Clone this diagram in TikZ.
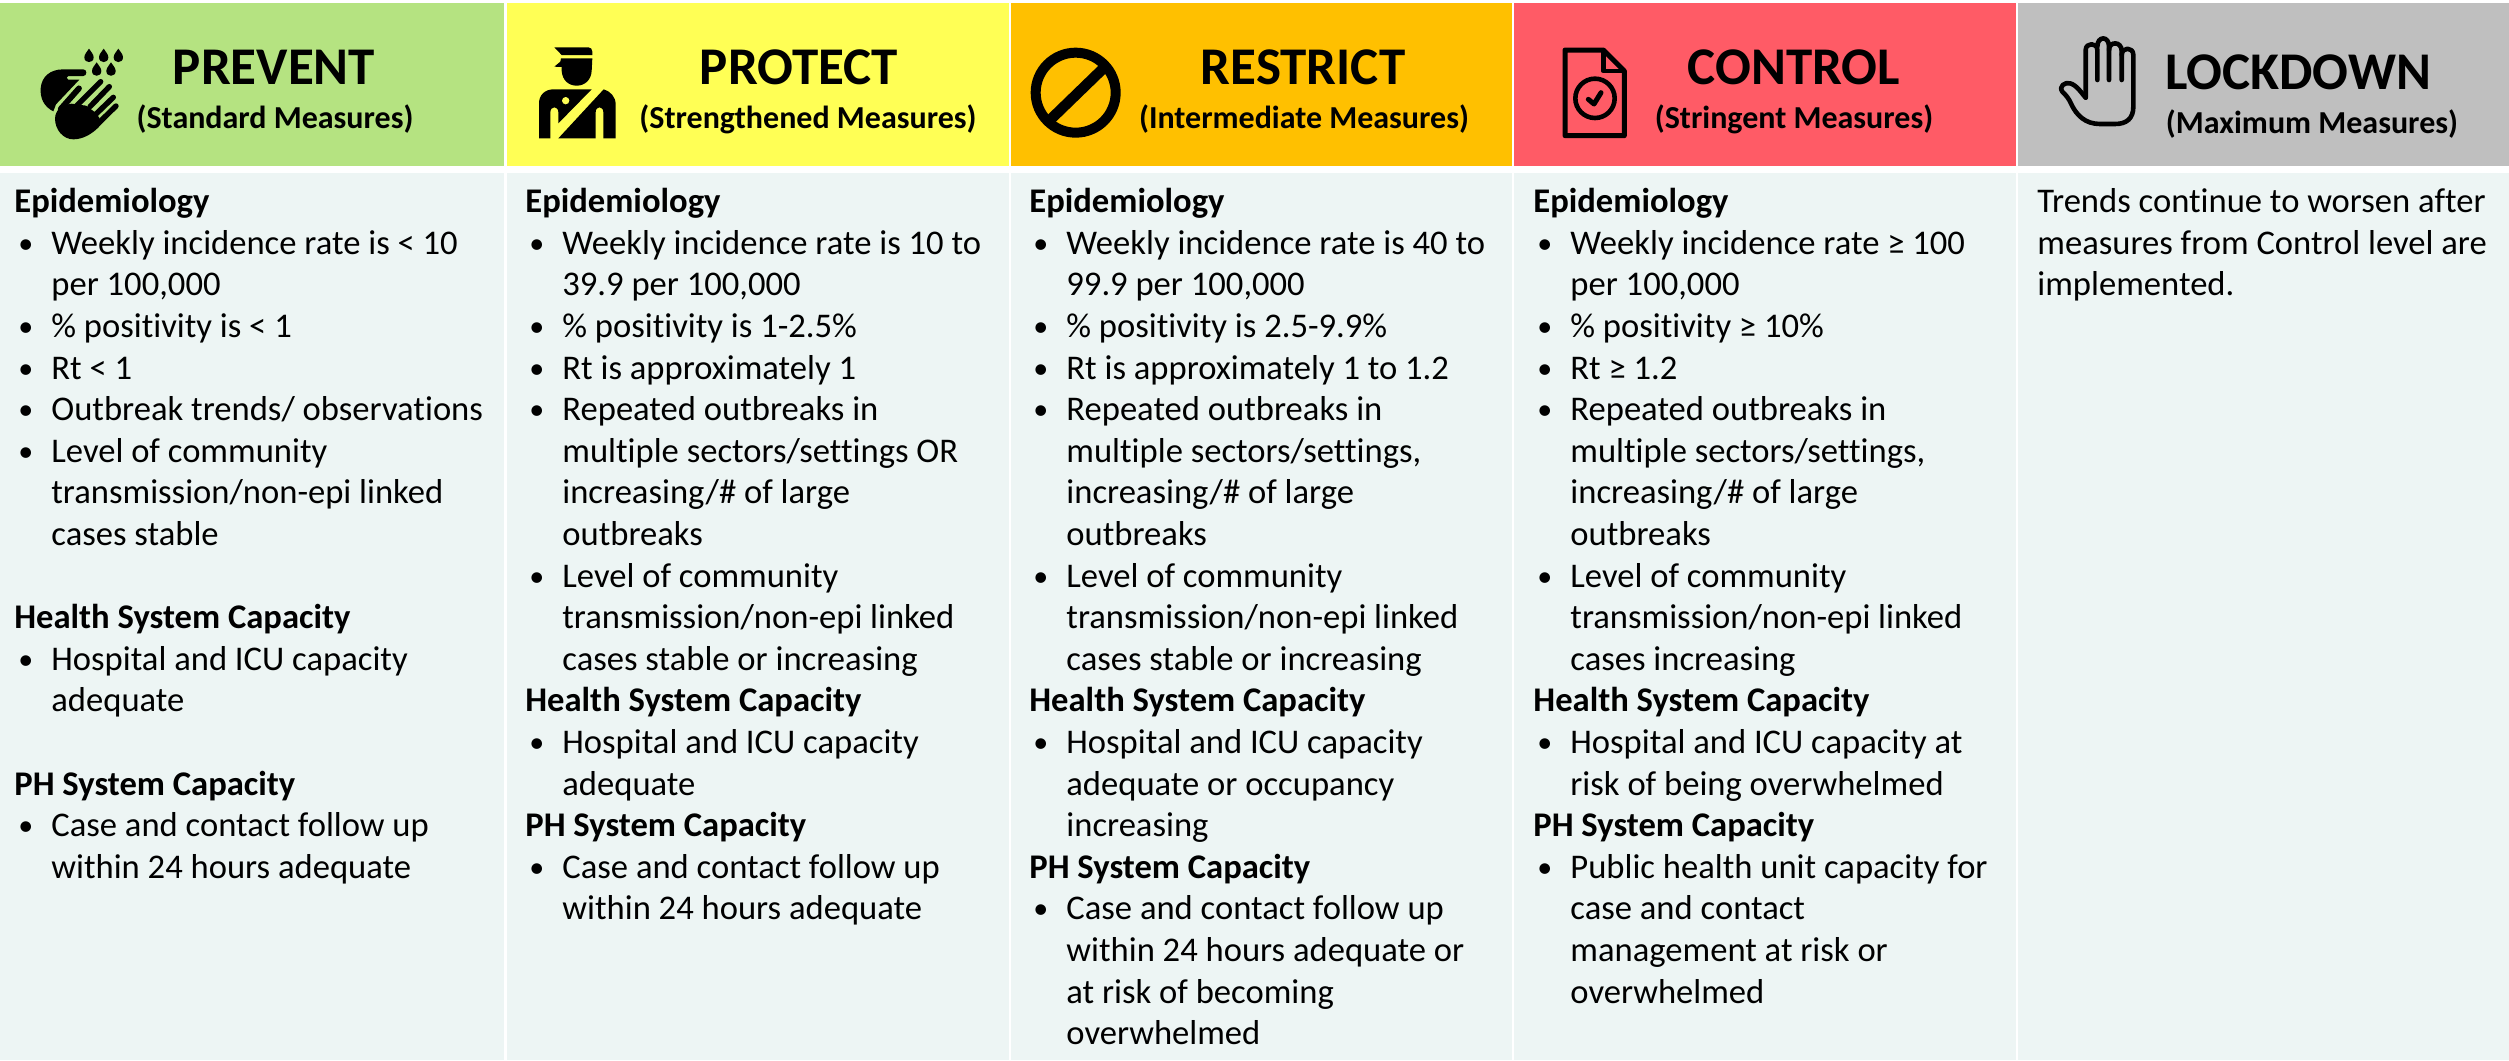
\documentclass[tikz,border=0pt]{standalone}
\usepackage{fontspec}
\usepackage{tikz}
\setmainfont[Ligatures = NoCommon]{Carlito}
\definecolor{prevcol}{HTML}{B5E381}
\definecolor{protcol}{HTML}{FFFF55}
\definecolor{restcol}{HTML}{FFC000}
\definecolor{contcol}{HTML}{FF5B66}
\definecolor{lockcol}{HTML}{BFBFBF}
\definecolor{bodycol}{HTML}{EDF5F4}
\newcommand{\bul}[1]{\hspace*{2pt}\makebox[16.5pt][l]{\fontsize{15}{15}\selectfont\raisebox{0.5pt}{•}}#1}
\newcommand{\cont}[1]{\hspace*{18.5pt}#1}
\tikzset{
  title/.style = {font = \fontsize{26.5}{30}\selectfont\bfseries, inner sep = 0},
  subtitle/.style = {font = \fontsize{16}{18}\selectfont\bfseries, inner sep = 0},
  bodytext/.style = {anchor = north west, align = left, inner sep = 0, font = \fontsize{17.3}{20.8}\selectfont},
  icon/.style = {x = 0.16667pt, y = -0.16667pt}
}

\begin{document}
\begin{tikzpicture}[x = 0.5pt, y = -0.5pt]
  \useasboundingbox (0, 0) rectangle (2509, 1060);
  % header bands
  \fill [prevcol] (0, 3) rectangle (504, 166);
  \fill [protcol] (507, 3) rectangle (1009, 166);
  \fill [restcol] (1011, 3) rectangle (1512, 166);
  \fill [contcol] (1514, 3) rectangle (2016, 166);
  \fill [lockcol] (2018, 3) rectangle (2509, 166);
  % body bands
  \fill [bodycol] (0, 173) rectangle (504, 1060);
  \fill [bodycol] (507, 173) rectangle (1009, 1060);
  \fill [bodycol] (1011, 173) rectangle (1512, 1060);
  \fill [bodycol] (1514, 173) rectangle (2016, 1060);
  \fill [bodycol] (2018, 173) rectangle (2509, 1060);
  % titles
  \node [title] (prevent) at (274, 67) {PREVENT};
  \node [subtitle] (preventsub) at (275, 119) {(Standard Measures)};
  \node [title] (protect) at (799, 67) {PROTECT};
  \node [subtitle] (protectsub) at (808, 119) {(Strengthened Measures)};
  \node [title] (restrict) at (1303, 67) {RESTRICT};
  \node [subtitle] (restrictsub) at (1304, 119) {(Intermediate Measures)};
  \node [title] (control) at (1794, 67) {CONTROL};
  \node [subtitle] (controlsub) at (1794, 119) {(Stringent Measures)};
  \node [title] (lockdown) at (2298, 72) {LOCKDOWN};
  \node [subtitle] (lockdownsub) at (2312, 124) {(Maximum Measures)};
  % body text
  \node [bodytext] (prevbody) at (14, 188) {\textbf{Epidemiology}\\
    \bul{Weekly incidence rate is < 10}\\
    \cont{per 100,000}\\
    \bul{\% positivity is < 1}\\
    \bul{Rt < 1}\\
    \bul{Outbreak trends/ observations}\\
    \bul{Level of community}\\
    \cont{transmission/non-epi linked}\\
    \cont{cases stable}\\
    \mbox{}\\
    \textbf{Health System Capacity}\\
    \bul{Hospital and ICU capacity}\\
    \cont{adequate}\\
    \mbox{}\\
    \textbf{PH System Capacity}\\
    \bul{Case and contact follow up}\\
    \cont{within 24 hours adequate}};
  \node [bodytext] (protbody) at (525, 188) {\textbf{Epidemiology}\\
    \bul{Weekly incidence rate is 10 to}\\
    \cont{39.9 per 100,000}\\
    \bul{\% positivity is 1-2.5\%}\\
    \bul{Rt is approximately 1}\\
    \bul{Repeated outbreaks in}\\
    \cont{multiple sectors/settings OR}\\
    \cont{increasing/\# of large}\\
    \cont{outbreaks}\\
    \bul{Level of community}\\
    \cont{transmission/non-epi linked}\\
    \cont{cases stable or increasing}\\
    \textbf{Health System Capacity}\\
    \bul{Hospital and ICU capacity}\\
    \cont{adequate}\\
    \textbf{PH System Capacity}\\
    \bul{Case and contact follow up}\\
    \cont{within 24 hours adequate}};
  \node [bodytext] (restbody) at (1029, 188) {\textbf{Epidemiology}\\
    \bul{Weekly incidence rate is 40 to}\\
    \cont{99.9 per 100,000}\\
    \bul{\% positivity is 2.5-9.9\%}\\
    \bul{Rt is approximately 1 to 1.2}\\
    \bul{Repeated outbreaks in}\\
    \cont{multiple sectors/settings,}\\
    \cont{increasing/\# of large}\\
    \cont{outbreaks}\\
    \bul{Level of community}\\
    \cont{transmission/non-epi linked}\\
    \cont{cases stable or increasing}\\
    \textbf{Health System Capacity}\\
    \bul{Hospital and ICU capacity}\\
    \cont{adequate or occupancy}\\
    \cont{increasing}\\
    \textbf{PH System Capacity}\\
    \bul{Case and contact follow up}\\
    \cont{within 24 hours adequate or}\\
    \cont{at risk of becoming}\\
    \cont{overwhelmed}};
  \node [bodytext] (contbody) at (1533, 188) {\textbf{Epidemiology}\\
    \bul{Weekly incidence rate ≥ 100}\\
    \cont{per 100,000}\\
    \bul{\% positivity ≥ 10\%}\\
    \bul{Rt ≥ 1.2}\\
    \bul{Repeated outbreaks in}\\
    \cont{multiple sectors/settings,}\\
    \cont{increasing/\# of large}\\
    \cont{outbreaks}\\
    \bul{Level of community}\\
    \cont{transmission/non-epi linked}\\
    \cont{cases increasing}\\
    \textbf{Health System Capacity}\\
    \bul{Hospital and ICU capacity at}\\
    \cont{risk of being overwhelmed}\\
    \textbf{PH System Capacity}\\
    \bul{Public health unit capacity for}\\
    \cont{case and contact}\\
    \cont{management at risk or}\\
    \cont{overwhelmed}};
  \node [bodytext] (lockbody) at (2037, 188) {Trends continue to worsen after\\
    measures from Control level are\\
    implemented.};
  % hands and drops
  \begin{scope}[shift = {(30, 35)}, icon]
    \foreach \dx/\dy in {177/62, 221/62, 265/62, 200/103, 243/103}
      \fill (\dx, \dy - 21) .. controls (\dx + 5, \dy - 12) and (\dx + 14, \dy - 5) .. (\dx + 14, \dy + 5)
        .. controls (\dx + 14, \dy + 24) and (\dx - 14, \dy + 24) .. (\dx - 14, \dy + 5)
        .. controls (\dx - 14, \dy - 5) and (\dx - 5, \dy - 12) .. (\dx, \dy - 21);
    \fill (70, 229) .. controls (42, 215) and (30, 190) .. (32, 160) .. controls (35, 125) and (60, 103) .. (100, 103)
      -- (160, 103) .. controls (172, 103) and (172, 123) .. (160, 123) -- (115, 123) .. controls (108, 123) and (108, 133) .. (115, 134)
      -- (148, 134) -- (78, 208) -- cycle;
    \draw [line width = 2.9pt, line cap = round] (147, 160) -- (92, 222);
    \draw [line width = 2.7pt, line cap = round] (212, 140) -- (140, 212);
    \draw [line width = 2.7pt, line cap = round] (238, 155) -- (180, 215);
    \draw [line width = 2.7pt, line cap = round] (250, 187) -- (195, 240);
    \draw [line width = 2.7pt, line cap = round] (258, 213) -- (205, 265);
    \fill (75, 250) .. controls (75, 235) and (85, 222) .. (95, 212) -- (125, 206) -- (168, 212) -- (190, 228) -- (208, 248) -- (211, 271)
      .. controls (190, 295) and (160, 313) .. (130, 313) .. controls (100, 313) and (75, 285) .. (75, 250) -- cycle;
  \end{scope}
  % officer
  \begin{scope}[shift = {(525, 35)}, icon]
    \fill (88, 37) -- (190, 37) .. controls (197, 37) and (202, 42) .. (202, 50) -- (202, 60) -- (110, 60) -- cycle;
    \fill (108, 70) -- (202, 70) -- (200, 108) .. controls (198, 135) and (180, 152) .. (155, 152)
      .. controls (130, 152) and (112, 135) .. (110, 108) -- (110, 96) -- (88, 95) -- (106, 80) -- cycle;
    \fill (42, 310) -- (42, 205) .. controls (42, 180) and (60, 163) .. (85, 163) -- (200, 163) -- (100, 265) -- (100, 232)
      .. controls (100, 212) and (76, 212) .. (76, 232) -- (76, 310) -- cycle;
    \fill (100, 310) -- (236, 163) .. controls (255, 168) and (272, 185) .. (272, 208) -- (272, 310) -- (235, 310) -- (235, 232)
      .. controls (235, 212) and (212, 212) .. (212, 232) -- (212, 310) -- cycle;
    \fill [protcol] (122, 197) circle [radius = 11];
  \end{scope}
  % no entry sign
  \begin{scope}[shift = {(1020, 35)}, icon]
    \draw [line width = 5pt] (167, 173) circle [radius = 120];
    \draw [line width = 5.3pt] (90, 255) -- (250, 100);
  \end{scope}
  % document with check
  \begin{scope}[shift = {(1545, 35)}, icon]
    \draw [line width = 2.5pt, line join = round] (60, 45) -- (175, 45) -- (238, 108) -- (238, 302) -- (60, 302) -- cycle;
    \draw [line width = 2.3pt, line join = round] (175, 45) -- (175, 108) -- (238, 108);
    \draw [line width = 2.3pt] (150, 190) circle [radius = 59];
    \draw [line width = 2.5pt, line cap = round, line join = round] (130, 193) -- (147, 207) -- (168, 173);
  \end{scope}
  % raised hand
  \begin{scope}[shift = {(2045, 25)}, icon]
    \draw [line width = 2.3pt, line cap = round, line join = round] (122, 218) -- (122, 75)
      .. controls (122, 52) and (157, 52) .. (157, 75) -- (157, 165);
    \draw [line width = 2.3pt, line cap = round] (157, 65) .. controls (157, 32) and (192, 32) .. (192, 65) -- (192, 165);
    \draw [line width = 2.3pt, line cap = round] (192, 75) .. controls (192, 48) and (230, 48) .. (230, 78) -- (230, 165);
    \draw [line width = 2.3pt, line cap = round, line join = round] (230, 90) .. controls (230, 65) and (265, 65) .. (265, 90) -- (265, 245)
      .. controls (265, 280) and (245, 297) .. (210, 297) -- (165, 297) .. controls (120, 297) and (95, 270) .. (80, 240)
      .. controls (72, 220) and (62, 210) .. (52, 200) .. controls (40, 185) and (60, 170) .. (75, 175)
      .. controls (95, 180) and (110, 205) .. (122, 218);
  \end{scope}
\end{tikzpicture}
\end{document}
